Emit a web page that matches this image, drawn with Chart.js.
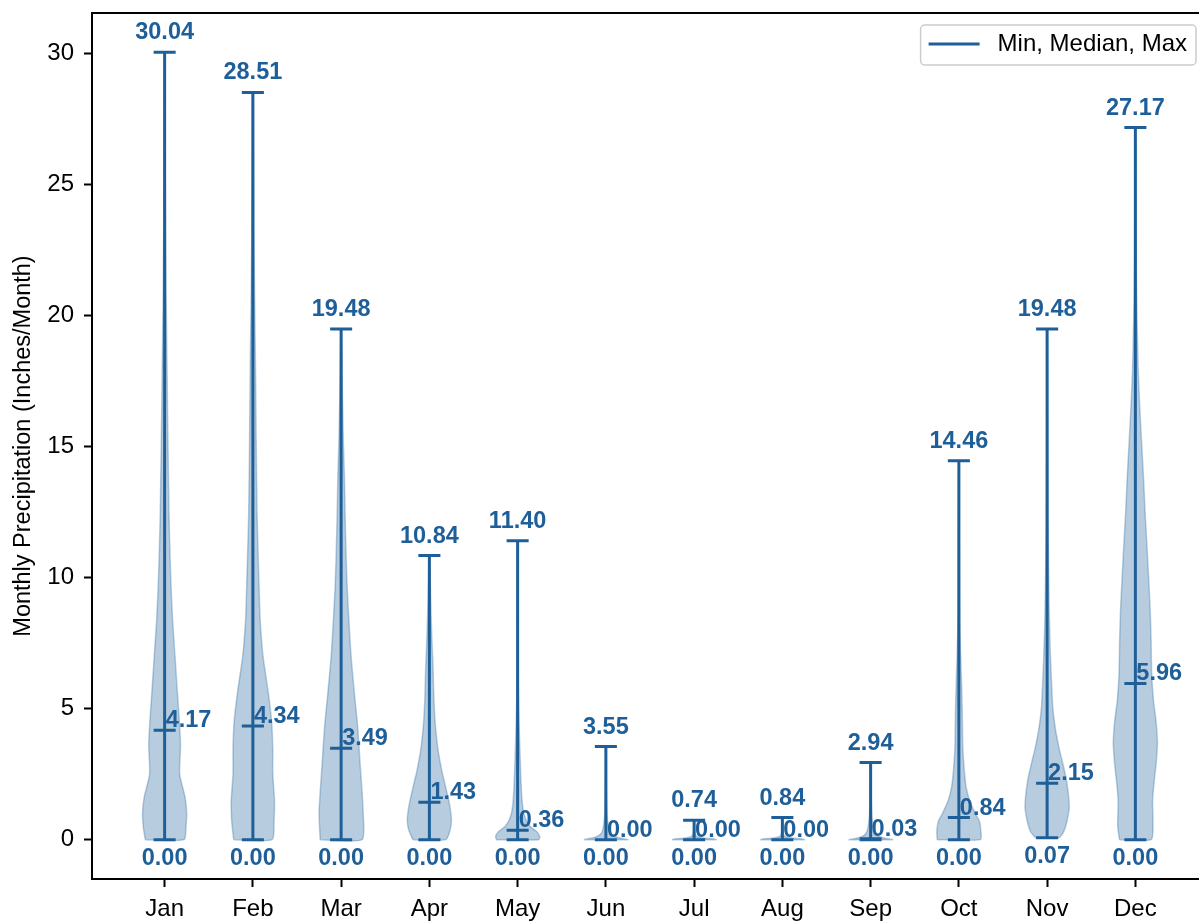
<!DOCTYPE html>
<html>
<head>
<meta charset="utf-8">
<script src="https://cdn.jsdelivr.net/npm/chart.js@4.4.1/dist/chart.umd.min.js"></script>
<style>
  html, body { margin: 0; padding: 0; background: #fff; overflow: hidden; }
  #violinChart { display: block; }
</style>
</head>
<body>
<canvas id="violinChart" width="1212" height="922"></canvas>
<script>
// Datos de precipitación mensual
const months = ['Jan', 'Feb', 'Mar', 'Apr', 'May', 'Jun', 'Jul', 'Aug', 'Sep', 'Oct', 'Nov', 'Dec'];
const minValues = [0.00, 0.00, 0.00, 0.00, 0.00, 0.00, 0.00, 0.00, 0.00, 0.00, 0.07, 0.00];
const medianValues = [4.17, 4.34, 3.49, 1.43, 0.36, 0.00, 0.00, 0.00, 0.03, 0.84, 2.15, 5.96];
const maxValues = [30.04, 28.51, 19.48, 10.84, 11.40, 3.55, 0.74, 0.84, 2.94, 14.46, 19.48, 27.17];
const yTicks = [0, 5, 10, 15, 20, 25, 30];

// Perfil de cada violín: [valor, ancho relativo]
const densityJan = [[0, 0.88], [0.5, 0.97], [1.0, 1.0], [1.6, 0.93], [2.5, 0.68], [3.6, 0.72], [4.5, 0.67], [5.6, 0.58], [7.0, 0.47], [8.4, 0.36], [9.7, 0.29], [11, 0.24], [12.4, 0.2], [15.2, 0.15], [17.9, 0.11], [20.6, 0.07], [23, 0.045], [26, 0.025], [30.04, 0.01]];
const densityFeb = [[0, 0.87], [0.7, 0.96], [1.5, 0.98], [2.5, 0.9], [3.5, 0.9], [4.5, 0.85], [5.6, 0.7], [7.0, 0.46], [8.4, 0.33], [9.7, 0.28], [12.4, 0.19], [15.2, 0.15], [17.9, 0.12], [20.6, 0.08], [23, 0.05], [26, 0.03], [28.51, 0.01]];
const densityMar = [[0, 0.95], [1, 1.0], [1.8, 0.95], [2.9, 0.86], [4.3, 0.75], [5.6, 0.6], [7, 0.45], [8.4, 0.35], [9.7, 0.27], [11, 0.22], [12.4, 0.18], [13.8, 0.15], [15.2, 0.1], [16.5, 0.07], [17.9, 0.04], [19.48, 0.01]];
const densityApr = [[0, 0.75], [0.4, 0.95], [0.8, 1.0], [1.4, 0.9], [2, 0.74], [2.6, 0.57], [3.5, 0.38], [4.5, 0.26], [5.5, 0.2], [6.5, 0.17], [7.5, 0.12], [8.5, 0.08], [9.5, 0.05], [10.84, 0.01]];
const densityMay = [[0, 0.96], [0.13, 1.0], [0.32, 0.85], [0.5, 0.57], [0.76, 0.38], [1.0, 0.28], [1.4, 0.21], [1.9, 0.17], [2.3, 0.15], [3, 0.12], [4, 0.08], [5, 0.05], [6, 0.03], [8, 0.015], [11.4, 0.005]];
const densityJun = [[0, 1.0], [0.05, 0.7], [0.12, 0.4], [0.25, 0.2], [0.45, 0.12], [0.7, 0.08], [1.0, 0.05], [1.5, 0.03], [2.2, 0.015], [3.55, 0.005]];
const densityJul = [[0, 1.0], [0.03, 0.85], [0.06, 0.4], [0.12, 0.12], [0.25, 0.04], [0.5, 0.015], [0.74, 0.005]];
const densityAug = [[0, 1.0], [0.03, 0.85], [0.06, 0.4], [0.12, 0.12], [0.25, 0.04], [0.5, 0.015], [0.84, 0.005]];
const densitySep = [[0, 1.0], [0.05, 0.65], [0.12, 0.38], [0.25, 0.2], [0.45, 0.12], [0.7, 0.08], [1.0, 0.05], [1.5, 0.03], [2.2, 0.012], [2.94, 0.005]];
const densityOct = [[0, 0.98], [0.3, 1.0], [0.7, 0.93], [1.0, 0.74], [1.5, 0.48], [2, 0.33], [2.5, 0.26], [3.5, 0.18], [5, 0.15], [6, 0.12], [7, 0.08], [8, 0.05], [9, 0.035], [11, 0.02], [14.46, 0.005]];
const densityNov = [[0.07, 0.53], [0.3, 0.75], [0.7, 0.9], [1.2, 1.0], [1.6, 0.98], [2.2, 0.89], [2.8, 0.74], [3.5, 0.54], [4.2, 0.38], [5, 0.26], [6, 0.2], [7, 0.15], [8.5, 0.1], [10, 0.07], [12, 0.045], [14, 0.03], [16, 0.02], [19.48, 0.005]];
const densityDec = [[0, 0.72], [0.5, 0.8], [1.5, 0.78], [2.2, 0.85], [2.9, 0.94], [3.7, 1.0], [4.5, 0.94], [5.3, 0.82], [6.3, 0.74], [7.7, 0.71], [8.8, 0.67], [10, 0.6], [11.3, 0.52], [12.5, 0.44], [13.8, 0.37], [15.2, 0.28], [16.5, 0.2], [17.9, 0.13], [19.3, 0.09], [20.6, 0.06], [22, 0.04], [24, 0.025], [27.17, 0.005]];
const densityProfiles = [densityJan, densityFeb, densityMar, densityApr, densityMay, densityJun,
    densityJul, densityAug, densitySep, densityOct, densityNov, densityDec];

const lineColor = '#1f5f99';
const fontFamily = '"Liberation Sans", Arial, sans-serif';
const violinHalfWidth = 0.25;
const capHalfWidth = 0.125;

Chart.defaults.font.family = fontFamily;
Chart.defaults.color = '#000';

// Cuerpos de los violines (polígono cerrado)
const violinDatasets = densityProfiles.map((profile, i) => {
    const pos = i + 1;
    const left = profile.map(([v, w]) => ({ x: pos - w * violinHalfWidth, y: v }));
    const right = profile.slice().reverse().map(([v, w]) => ({ x: pos + w * violinHalfWidth, y: v }));
    return {
        label: months[i],
        data: left.concat(right, [left[0]]),
        backgroundColor: 'rgba(31, 95, 153, 0.32)',
        borderColor: 'rgba(31, 95, 153, 0.3)',
        borderWidth: 1.5,
        fill: 'shape',
        tension: 0.2,
        pointRadius: 0
    };
});

// Barras de mínimo, mediana y máximo
const barData = [];
months.forEach((m, i) => {
    const pos = i + 1;
    [minValues[i], medianValues[i], maxValues[i]].forEach(v => {
        barData.push({ x: pos - capHalfWidth, y: v }, { x: pos + capHalfWidth, y: v }, { x: pos, y: null });
    });
    barData.push({ x: pos, y: minValues[i] }, { x: pos, y: maxValues[i] }, { x: pos, y: null });
});

const barDataset = {
    label: 'Min, Median, Max',
    data: barData,
    borderColor: lineColor,
    borderWidth: 3,
    borderCapStyle: 'butt',
    spanGaps: false,
    fill: false,
    tension: 0,
    pointRadius: 0
};

// Etiquetas, marco superior/derecho y leyenda
const violinExtras = {
    id: 'violinExtras',
    afterDatasetsDraw(chart) {
        const { ctx, scales: { x, y } } = chart;
        ctx.save();
        ctx.font = 'bold 23.5px ' + fontFamily;
        ctx.fillStyle = lineColor;
        ctx.textBaseline = 'alphabetic';
        months.forEach((m, i) => {
            const px = x.getPixelForValue(i + 1);
            ctx.textAlign = 'center';
            ctx.fillText(maxValues[i].toFixed(2), px, y.getPixelForValue(maxValues[i]) - 13);
            ctx.fillText(minValues[i].toFixed(2), px, y.getPixelForValue(minValues[i]) + 25);
            ctx.textAlign = 'left';
            ctx.fillText(medianValues[i].toFixed(2), px + 1, y.getPixelForValue(medianValues[i]) - 3);
        });
        ctx.restore();
    },
    afterDraw(chart) {
        const { ctx, chartArea } = chart;
        ctx.save();
        ctx.strokeStyle = '#000';
        ctx.lineWidth = 2;
        ctx.beginPath();
        ctx.moveTo(chartArea.left, chartArea.top);
        ctx.lineTo(chartArea.right, chartArea.top);
        ctx.lineTo(chartArea.right, chartArea.bottom);
        ctx.stroke();

        // Leyenda
        const text = barDataset.label;
        ctx.font = '24px ' + fontFamily;
        const textWidth = ctx.measureText(text).width;
        const boxRight = chartArea.right - 12;
        const boxTop = chartArea.top + 12;
        const textX = boxRight - 9 - textWidth;
        const boxLeft = textX - 77;
        const boxHeight = 40;
        ctx.beginPath();
        ctx.roundRect(boxLeft, boxTop, boxRight - boxLeft, boxHeight, 4);
        ctx.fillStyle = 'rgba(255, 255, 255, 0.8)';
        ctx.fill();
        ctx.strokeStyle = '#cccccc';
        ctx.lineWidth = 1.5;
        ctx.stroke();
        const midY = boxTop + boxHeight / 2 - 1;
        ctx.beginPath();
        ctx.moveTo(boxLeft + 8, midY);
        ctx.lineTo(boxLeft + 59, midY);
        ctx.strokeStyle = lineColor;
        ctx.lineWidth = 3;
        ctx.stroke();
        ctx.fillStyle = '#000';
        ctx.textAlign = 'left';
        ctx.textBaseline = 'middle';
        ctx.fillText(text, textX, midY);
        ctx.restore();
    }
};

// Configuración del gráfico
const violinConfig = {
    type: 'line',
    data: {
        datasets: violinDatasets.concat([barDataset])
    },
    options: {
        responsive: false,
        animation: false,
        devicePixelRatio: 1,
        events: [],
        layout: {
            padding: { top: 13, right: 4, left: 0, bottom: 0 }
        },
        plugins: {
            legend: { display: false },
            tooltip: { enabled: false }
        },
        scales: {
            x: {
                type: 'linear',
                min: 0.177,
                max: 12.823,
                afterBuildTicks: (scale) => {
                    scale.ticks = months.map((m, i) => ({ value: i + 1 }));
                },
                afterFit: (scale) => {
                    scale.height = 43;
                    scale.paddingLeft = 0;
                    scale.paddingRight = 0;
                },
                ticks: {
                    callback: (value) => months[value - 1],
                    font: { size: 24, lineHeight: 1 },
                    color: '#000',
                    padding: 10,
                    maxRotation: 0,
                    autoSkip: false
                },
                grid: { display: true, drawOnChartArea: false, tickLength: 8, tickWidth: 2, tickColor: '#000' },
                border: { color: '#000', width: 2 }
            },
            y: {
                type: 'linear',
                min: -1.502,
                max: 31.542,
                afterBuildTicks: (scale) => {
                    scale.ticks = yTicks.map(v => ({ value: v }));
                },
                afterFit: (scale) => {
                    scale.width = 92;
                    scale.paddingTop = 0;
                    scale.paddingBottom = 0;
                },
                ticks: {
                    callback: (value) => String(value),
                    font: { size: 24, lineHeight: 1 },
                    color: '#000',
                    padding: 10
                },
                grid: { display: true, drawOnChartArea: false, tickLength: 8, tickWidth: 2, tickColor: '#000' },
                border: { color: '#000', width: 2 },
                title: {
                    display: true,
                    text: 'Monthly Precipitation (Inches/Month)',
                    font: { size: 23.5, lineHeight: 1.2 },
                    color: '#000',
                    padding: { top: 9, bottom: 0 }
                }
            }
        }
    },
    plugins: [violinExtras]
};

// Renderizar gráfico
const violinCtx = document.getElementById('violinChart').getContext('2d');
new Chart(violinCtx, violinConfig);
</script>
</body>
</html>
